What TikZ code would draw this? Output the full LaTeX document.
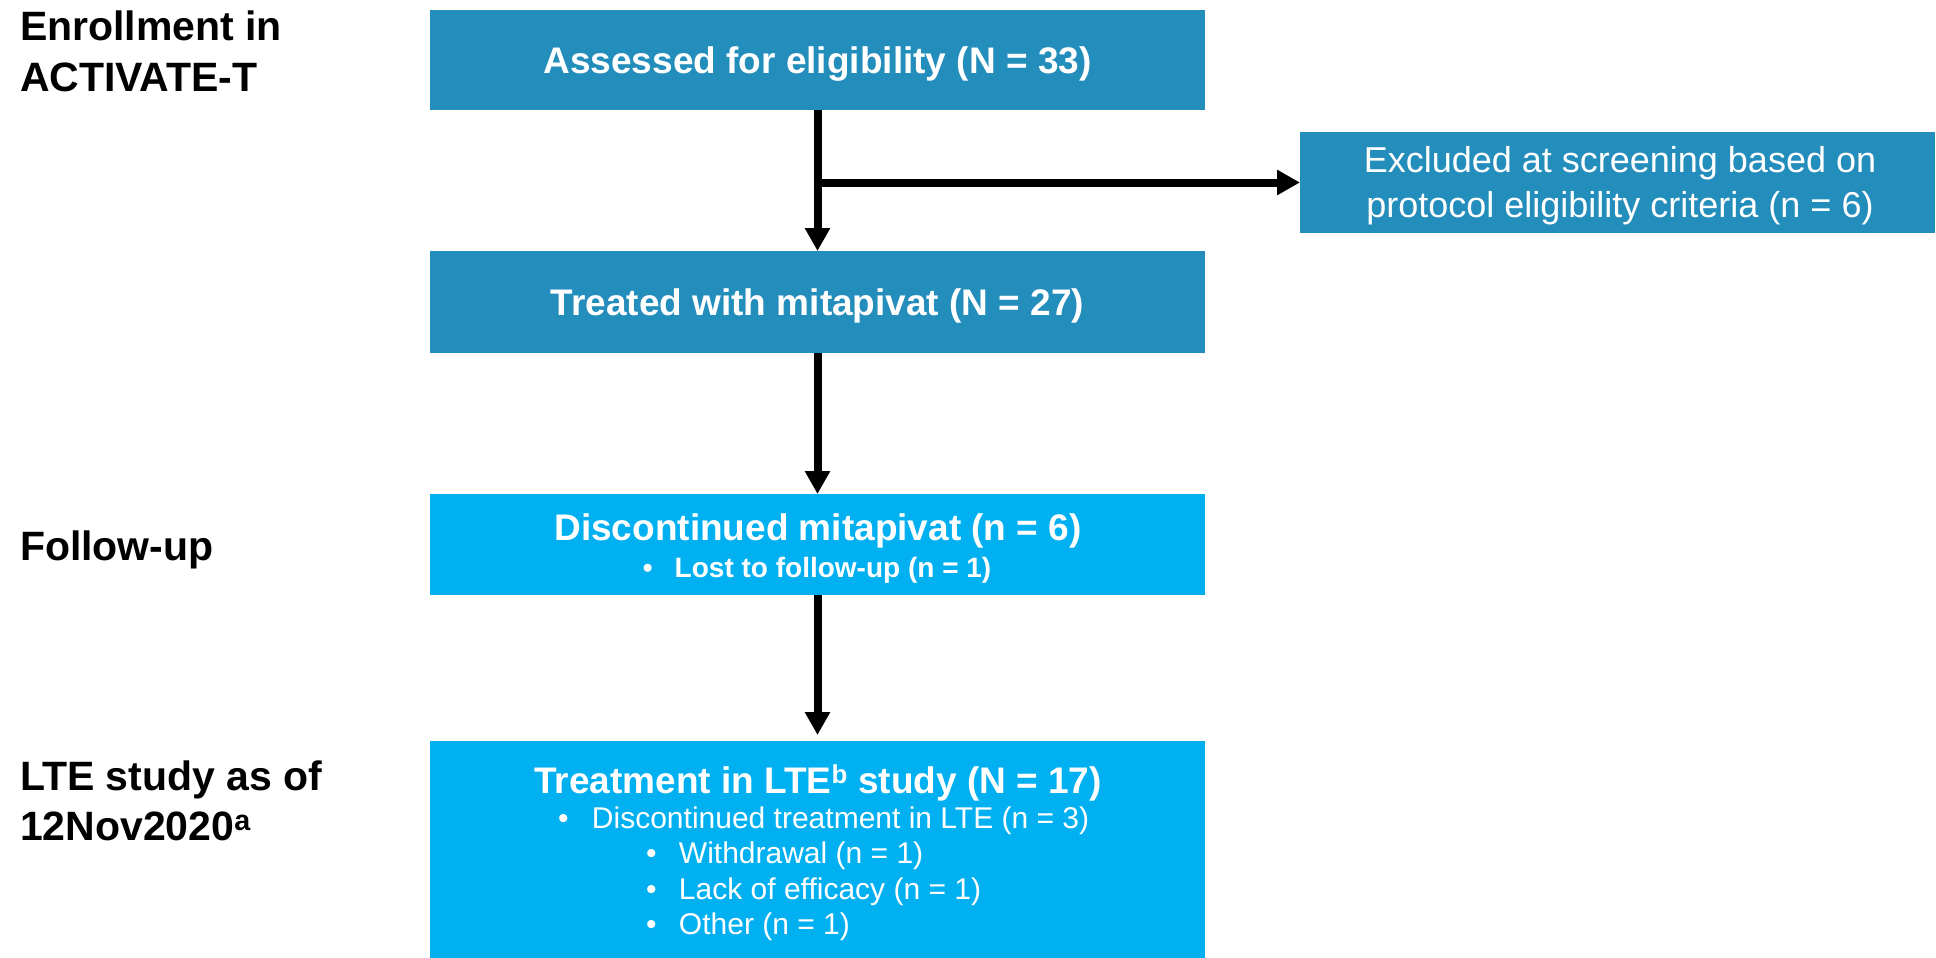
\documentclass[tikz,border=0pt]{standalone}
\usepackage{fontspec}
\setmainfont{Liberation Sans}
\usetikzlibrary{arrows.meta}
\definecolor{darkbox}{HTML}{238DBC}
\definecolor{lightbox}{HTML}{00B0F0}
\begin{document}
\begin{tikzpicture}[x=1pt,y=-1pt,
  boxbase/.style={draw=none, inner sep=0pt, outer sep=0pt, anchor=north west, text=white},
  dbox/.style={boxbase, fill=darkbox},
  lbox/.style={boxbase, fill=lightbox},
  headtxt/.style={font=\bfseries\fontsize{37}{44}\selectfont, text height=26.5pt, text depth=0pt},
  boxtxt/.style={inner sep=0pt, outer sep=0pt, text=white},
  sidelbl/.style={inner sep=0pt, outer sep=0pt, anchor=base west, font=\bfseries\fontsize{41}{50}\selectfont},
  conn/.style={line width=8pt, -{Triangle[length=23pt,width=24pt]}}]
\useasboundingbox (0,0) rectangle (1936,958);
% side labels
\node[sidelbl] (enr1) at (20,41) {Enrollment in};
\node[sidelbl] (enr2) at (20,92) {ACTIVATE-T};
\node[sidelbl] (fol) at (20,560) {Follow-up};
\node[sidelbl] (lte1) at (20,790) {LTE study as of};
\node[sidelbl] (lte2) at (20,840) {12Nov2020\textsuperscript{a}};
% boxes
\node[dbox, minimum width=775pt, minimum height=100pt, headtxt] (assess) at (430,10) {Assessed for eligibility (N = 33)};
\node[dbox, minimum width=635pt, minimum height=101pt] (excl) at (1300,132) {};
\node[dbox, minimum width=775pt, minimum height=102pt, headtxt] (treated) at (430,251) {Treated with mitapivat (N = 27)};
\node[lbox, minimum width=775pt, minimum height=101pt] (discont) at (430,494) {};
\node[lbox, minimum width=775pt, minimum height=218pt] (lte) at (430,741) {};
% texts in boxes
\node[boxtxt, anchor=base, font=\fontsize{36}{45}\selectfont] (exclA) at (1620,172) {Excluded at screening based on};
\node[boxtxt, anchor=base, font=\fontsize{36}{45}\selectfont] (exclB) at (1620,217) {protocol eligibility criteria (n = 6)};
\node[boxtxt, anchor=base, font=\bfseries\fontsize{37}{44}\selectfont] (discA) at (818,540) {Discontinued mitapivat (n = 6)};
\node[boxtxt, anchor=base, font=\bfseries\fontsize{28}{34}\selectfont] (discB) at (817,577) {\makebox[32pt][l]{•}Lost to follow-up (n = 1)};
\node[boxtxt, anchor=base, font=\bfseries\fontsize{37}{44}\selectfont] (lteA) at (818,793) {Treatment in LTE\textsuperscript{b} study (N = 17)};
\node[boxtxt, anchor=base west, font=\fontsize{30}{36}\selectfont] (lteB) at (558,828) {\makebox[34pt][l]{•}Discontinued treatment in LTE (n = 3)};
\node[boxtxt, anchor=base west, font=\fontsize{30}{36}\selectfont] (lteC) at (646,863) {\makebox[33pt][l]{•}Withdrawal (n = 1)};
\node[boxtxt, anchor=base west, font=\fontsize{30}{36}\selectfont] (lteD) at (646,899) {\makebox[33pt][l]{•}Lack of efficacy (n = 1)};
\node[boxtxt, anchor=base west, font=\fontsize{30}{36}\selectfont] (lteE) at (646,934) {\makebox[33pt][l]{•}Other (n = 1)};
% connectors
\draw[conn] (assess.south) -- (treated.north);
\draw[conn] (assess.south |- excl.west) -- (excl.west);
\draw[conn] (treated.south) -- (discont.north);
\draw[conn, shorten >=6pt] (discont.south) -- (lte.north);
\end{tikzpicture}
\end{document}
